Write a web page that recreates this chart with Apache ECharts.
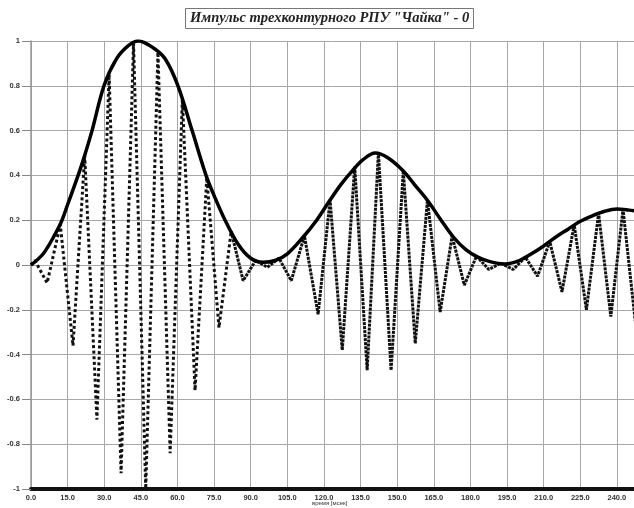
<!DOCTYPE html>
<html><head><meta charset="utf-8">
<script src="https://cdn.jsdelivr.net/npm/echarts@6/dist/echarts.min.js"></script>
<style>html,body{margin:0;padding:0;background:#fff}#c{width:634px;height:508px}</style>
</head><body><div id="c"></div>
<script>
const titleText = 'Импульс трехконтурного РПУ "Чайка" - 0';
const axisName = 'время [мсек]';
// envelope (thick solid curve)
const envX = [0, 5, 10, 12.7, 15, 19.3, 22, 25, 29.9, 35, 40, 44, 50, 55, 60.2, 66, 71.7, 75, 79.5, 85, 90, 95, 100, 105, 111.5, 117, 122.5, 127, 131.6, 136, 141, 146, 152.5, 157, 162.3, 168, 173, 178, 183, 188, 194, 200, 205, 210, 215, 220, 225, 230, 235, 240, 245, 248];
const envY = [0, 0.05, 0.14, 0.2, 0.27, 0.4, 0.49, 0.6, 0.8, 0.92, 0.98, 1.0, 0.97, 0.92, 0.8, 0.6, 0.4, 0.31, 0.2, 0.09, 0.03, 0.012, 0.02, 0.05, 0.125, 0.2, 0.29, 0.36, 0.42, 0.47, 0.5, 0.48, 0.42, 0.36, 0.29, 0.2, 0.125, 0.07, 0.035, 0.015, 0.005, 0.02, 0.05, 0.085, 0.125, 0.16, 0.195, 0.22, 0.24, 0.25, 0.245, 0.24];
// oscillating signal (peaks and troughs)
const waveX = [0, 1.6, 6.6, 12, 17.2, 22, 27, 32, 36.9, 42, 47, 52, 57, 62, 67.2, 72, 77, 82, 86.9, 92, 96.8, 101.6, 106.6, 112, 117.6, 122.5, 127.5, 132.6, 137.7, 142.3, 147.5, 152.5, 157.4, 162.4, 167.6, 172.5, 177.5, 182.5, 187.5, 192.5, 197.5, 202.5, 207.5, 212.5, 217.5, 222.5, 227.5, 232.5, 237.5, 242.5, 247.5];
const waveY = [0, 0.02, -0.08, 0.18, -0.36, 0.49, -0.69, 0.85, -0.93, 0.99, -1.0, 0.95, -0.84, 0.74, -0.56, 0.39, -0.28, 0.15, -0.07, 0.02, -0.01, 0.03, -0.07, 0.13, -0.22, 0.29, -0.38, 0.44, -0.47, 0.5, -0.47, 0.42, -0.35, 0.29, -0.21, 0.13, -0.09, 0.04, -0.02, 0.008, -0.02, 0.035, -0.05, 0.105, -0.12, 0.18, -0.2, 0.23, -0.23, 0.248, -0.25];
const splitAt = 82;

const env = envX.map((x, i) => [x, envY[i]]);
const wave = waveX.map((x, i) => [x, waveY[i]]);
const waveA = wave.filter(p => p[0] <= splitAt);
const waveB = wave.filter(p => p[0] >= splitAt);

const chart = echarts.init(document.getElementById('c'), null, {renderer: 'canvas'});
chart.setOption({
  animation: false,
  backgroundColor: '#fff',
  title: {
    text: titleText, left: 185, top: 8,
    borderWidth: 1, borderColor: '#777', padding: [3, 5],
    textStyle: {fontFamily: 'Liberation Serif', fontStyle: 'italic', fontWeight: 'bold', fontSize: 14.5, color: '#222'}
  },
  graphic: [{type: 'text', left: 312, top: 500, style: {text: axisName, font: '6px "Liberation Sans"', fill: '#333'}}],
  grid: {left: 31, right: 0, top: 41, bottom: 19},
  xAxis: {
    type: 'value', min: 0, max: 247, interval: 15,
    axisLine: {show: true, onZero: false, lineStyle: {color: '#111', width: 4}},
    axisTick: {show: false},
    axisLabel: {margin: 5, fontSize: 7.5, fontWeight: 'bold', fontFamily: 'Liberation Sans', color: '#333', showMaxLabel: false,
      formatter: v => (v % 15 === 0 ? v.toFixed(1) : '')},
    splitLine: {show: true, lineStyle: {color: '#a8a8a8', width: 1}}
  },
  yAxis: {
    type: 'value', min: -1, max: 1, interval: 0.2,
    axisLine: {show: true, lineStyle: {color: '#999', width: 1.5}},
    axisTick: {show: true, length: 9, lineStyle: {color: '#888'}},
    axisLabel: {margin: 11, fontSize: 7.5, fontWeight: 'bold', fontFamily: 'Liberation Sans', color: '#333',
      formatter: v => String(Math.round(v * 10) / 10)},
    splitLine: {show: true, lineStyle: {color: '#a8a8a8', width: 1}}
  },
  series: [
    {type: 'line', data: waveA, symbol: 'none', z: 2,
     lineStyle: {color: '#111', width: 3, type: [3, 2.6]}},
    {type: 'line', data: waveB, symbol: 'none', z: 2,
     lineStyle: {color: '#111', width: 3, type: [3, 1]}},
    {type: 'line', data: env, symbol: 'none', smooth: 0.35, z: 3,
     lineStyle: {color: '#000', width: 3.5}}
  ]
});
</script></body></html>
